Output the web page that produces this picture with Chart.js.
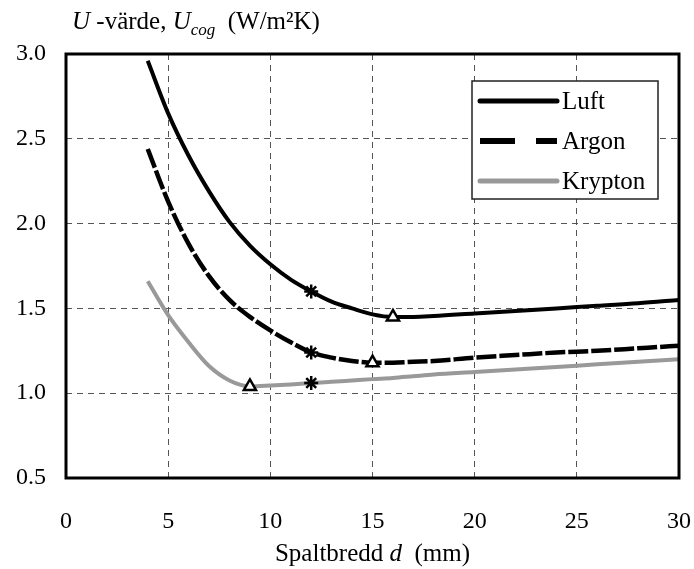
<!DOCTYPE html>
<html>
<head>
<meta charset="utf-8">
<script src="https://cdn.jsdelivr.net/npm/chart.js@4.4.1/dist/chart.umd.min.js"></script>
<style>
  html, body { margin: 0; padding: 0; background: #fff; }
  #wrap { width: 694px; height: 569px; }
</style>
</head>
<body>
<div id="wrap"><canvas id="uvalue"></canvas></div>
<script>
// spaltbredd d (mm)
const gap = [4, 5, 6, 7, 8, 9, 10, 11, 12, 13, 14, 15, 16, 17, 18, 20, 22, 24, 26, 28, 30];
const luft = [2.96, 2.65, 2.40, 2.19, 2.01, 1.87, 1.76, 1.67, 1.60, 1.54, 1.50, 1.465, 1.45, 1.45, 1.455, 1.47, 1.485, 1.50, 1.515, 1.53, 1.55];
const argon = [2.44, 2.13, 1.88, 1.69, 1.55, 1.45, 1.37, 1.30, 1.24, 1.21, 1.19, 1.18, 1.18, 1.185, 1.19, 1.21, 1.225, 1.24, 1.25, 1.265, 1.28];
const krypton = [1.66, 1.46, 1.30, 1.16, 1.075, 1.04, 1.045, 1.052, 1.06, 1.067, 1.075, 1.083, 1.09, 1.10, 1.11, 1.125, 1.14, 1.155, 1.17, 1.185, 1.20];

// markers: asterisk at 12 mm, triangle at the minimum
const starX = [12, 12, 12];
const starY = [1.60, 1.24, 1.06];
const minX = [16, 15, 9];
const minY = [1.45, 1.18, 1.04];

const legendNames = ['Luft', 'Argon', 'Krypton'];

const serif = '"Liberation Serif", "DejaVu Serif", serif';
const pts = (xs, ys) => xs.map((x, i) => ({ x: x, y: ys[i] }));

// titles, frame and in-plot legend
const decor = {
  id: 'decor',
  afterDraw(chart) {
    const ctx = chart.ctx;
    const a = chart.chartArea;
    ctx.save();

    ctx.strokeStyle = '#000';
    ctx.lineWidth = 3;
    ctx.strokeRect(a.left, a.top, a.right - a.left, a.bottom - a.top);

    // y title
    ctx.fillStyle = '#000';
    ctx.textBaseline = 'alphabetic';
    ctx.textAlign = 'left';
    let x = 72;
    const yb = 29;
    const part = (txt, font, dy) => {
      ctx.font = font;
      ctx.fillText(txt, x, yb + (dy || 0));
      x += ctx.measureText(txt).width;
    };
    part('U', 'italic 25px ' + serif);
    part(' -värde, ', '25px ' + serif);
    part('U', 'italic 25px ' + serif);
    part('cog', 'italic 17px ' + serif, 6);
    part('  (W/m²K)', '25px ' + serif);

    // x title
    const t1 = 'Spaltbredd ';
    const t3 = '  (mm)';
    ctx.font = 'italic 25px ' + serif;
    const w2 = ctx.measureText('d').width;
    ctx.font = '25px ' + serif;
    const w1 = ctx.measureText(t1).width;
    const w3 = ctx.measureText(t3).width;
    const xs = (a.left + a.right) / 2 - (w1 + w2 + w3) / 2;
    const xb = 561;
    ctx.fillText(t1, xs, xb);
    ctx.font = 'italic 25px ' + serif;
    ctx.fillText('d', xs + w1, xb);
    ctx.font = '25px ' + serif;
    ctx.fillText(t3, xs + w1 + w2, xb);

    // legend
    const lx = 472, ly = 81, lw = 186, lh = 118;
    ctx.fillStyle = '#fff';
    ctx.fillRect(lx, ly, lw, lh);
    ctx.strokeStyle = '#222';
    ctx.lineWidth = 1.5;
    ctx.strokeRect(lx, ly, lw, lh);
    const styles = [
      { color: '#000', width: 5, dash: [] },
      { color: '#000', width: 6, dash: [35, 21] },
      { color: '#999', width: 5, dash: [] }
    ];
    legendNames.forEach((name, i) => {
      const yy = ly + 20 + i * 40;
      const s = styles[i];
      ctx.beginPath();
      ctx.strokeStyle = s.color;
      ctx.lineWidth = s.width;
      ctx.lineCap = s.dash.length ? 'butt' : 'round';
      ctx.setLineDash(s.dash);
      ctx.moveTo(480, yy);
      ctx.lineTo(557, yy);
      ctx.stroke();
      ctx.setLineDash([]);
      ctx.fillStyle = '#000';
      ctx.font = '25px ' + serif;
      ctx.textBaseline = 'middle';
      ctx.fillText(name, 562, yy + 1);
    });
    ctx.restore();
  }
};

new Chart(document.getElementById('uvalue'), {
  type: 'line',
  data: {
    datasets: [
      {
        label: 'Argon', data: pts(gap, argon), borderColor: '#000', borderWidth: 4.5,
        borderDash: [20, 3], pointRadius: 0, cubicInterpolationMode: 'monotone', order: 3
      },
      {
        label: 'Luft', data: pts(gap, luft), borderColor: '#000', borderWidth: 4,
        pointRadius: 0, cubicInterpolationMode: 'monotone', order: 3
      },
      {
        label: 'Krypton', data: pts(gap, krypton), borderColor: '#999', borderWidth: 4,
        pointRadius: 0, cubicInterpolationMode: 'monotone', order: 3
      },
      {
        label: 'stars', data: pts(starX, starY), showLine: false, pointStyle: 'star',
        pointRadius: 7, borderColor: '#000', borderWidth: 2.5, backgroundColor: '#000', order: 1
      },
      {
        label: 'min', data: pts(minX, minY), showLine: false, pointStyle: 'triangle',
        pointRadius: 7, borderColor: '#000', borderWidth: 2.5, backgroundColor: '#fff', order: 1
      }
    ]
  },
  options: {
    responsive: true,
    maintainAspectRatio: false,
    animation: false,
    layout: { padding: { top: 54, right: 15, left: 0, bottom: 0 } },
    plugins: { legend: { display: false }, tooltip: { enabled: false } },
    scales: {
      x: {
        type: 'linear', min: 0, max: 30,
        afterFit: s => { s.height = 91; s.paddingRight = 0; s.paddingLeft = 0; },
        grid: { color: '#555', lineWidth: 1, drawTicks: false },
        border: { display: false, dash: [6, 5] },
        ticks: { stepSize: 5, padding: 29, color: '#000', font: { family: serif, size: 24 } }
      },
      y: {
        type: 'linear', min: 0.5, max: 3.0,
        afterFit: s => { s.width = 66; s.paddingTop = 0; s.paddingBottom = 0; },
        grid: { color: '#555', lineWidth: 1, drawTicks: false },
        border: { display: false, dash: [6, 5] },
        ticks: {
          stepSize: 0.5, padding: 20, color: '#000',
          font: { family: serif, size: 24 },
          callback: v => v.toFixed(1)
        }
      }
    }
  },
  plugins: [decor]
});
</script>
</body>
</html>
